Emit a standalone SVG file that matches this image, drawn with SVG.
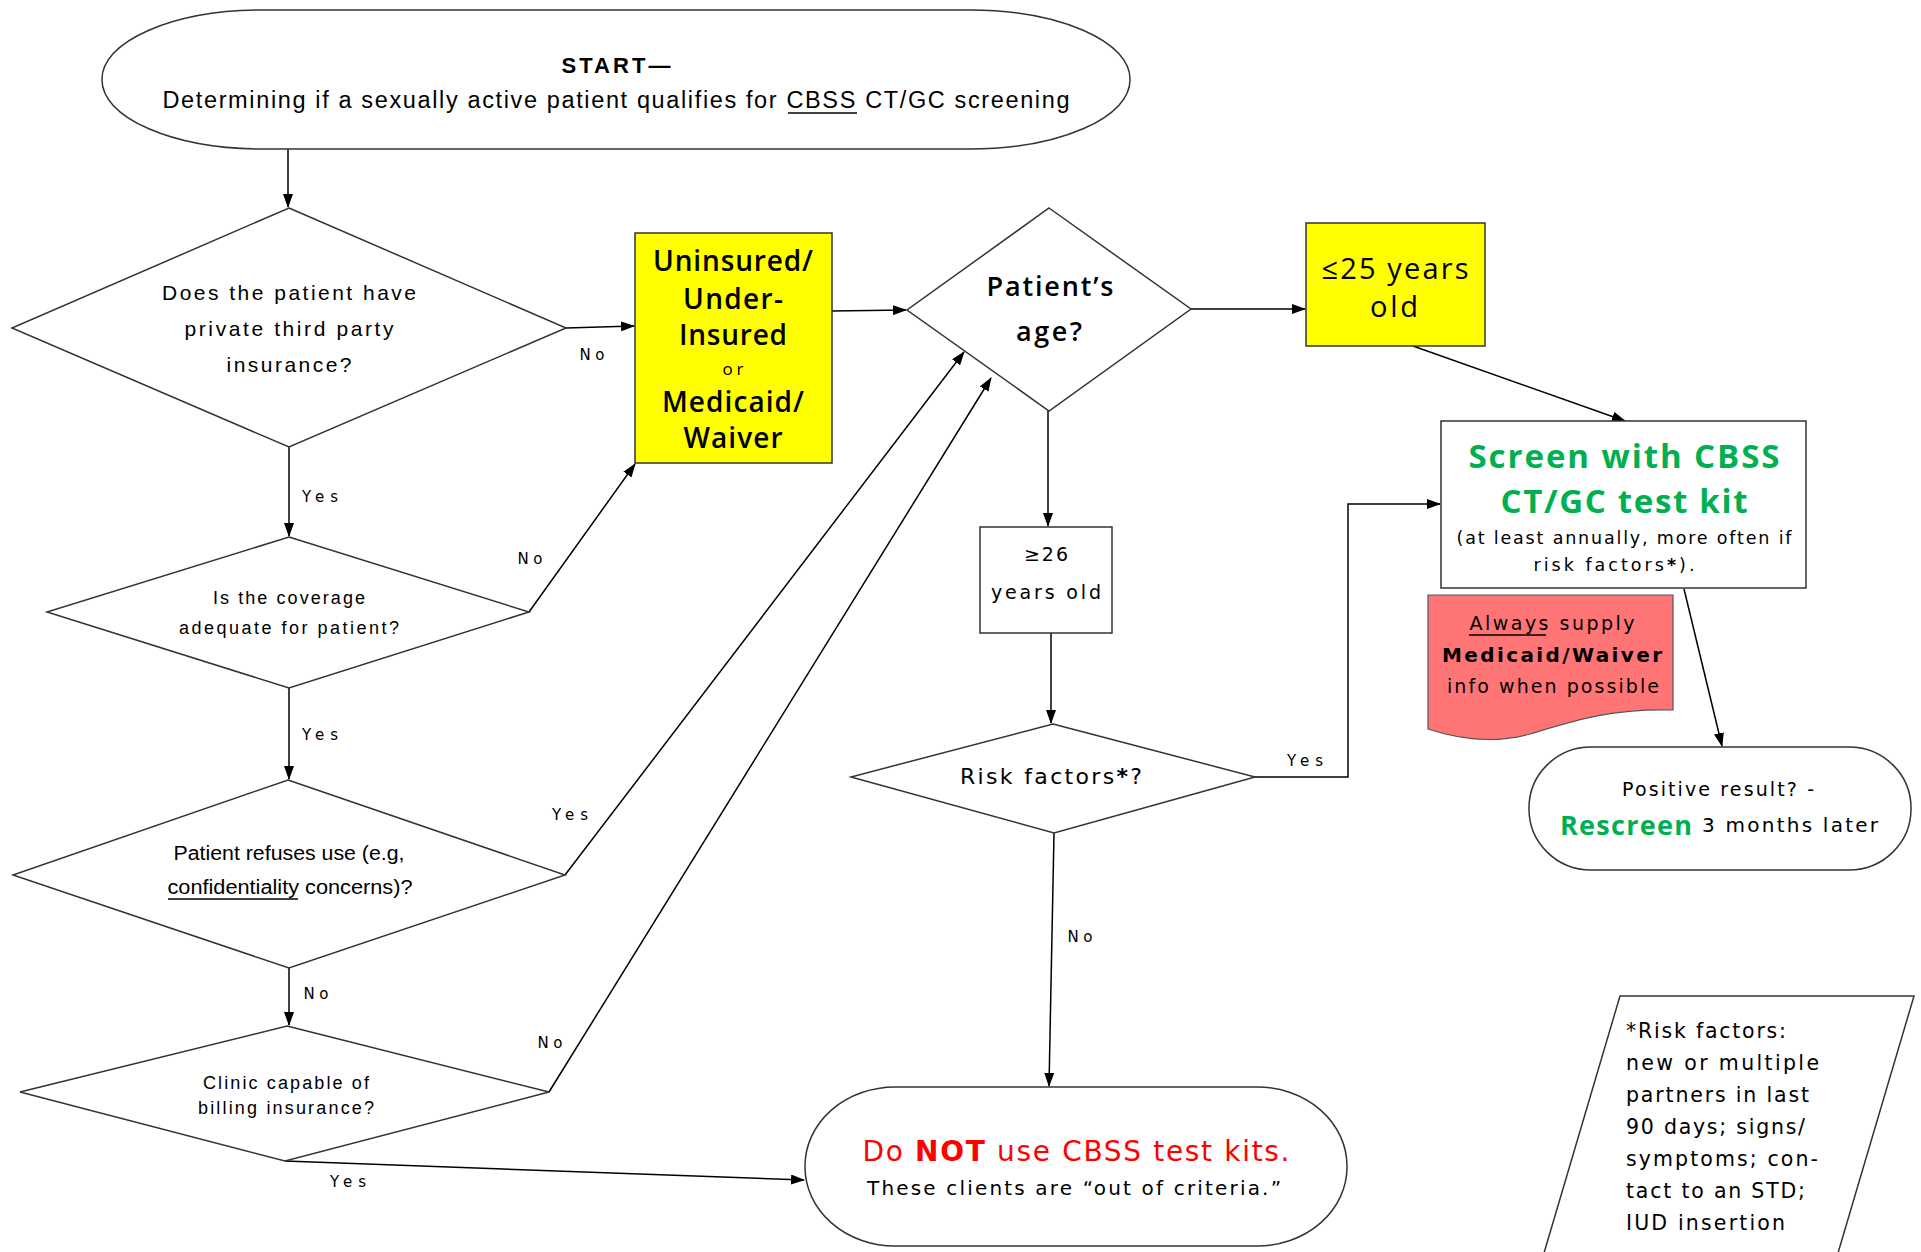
<svg xmlns="http://www.w3.org/2000/svg" width="1921" height="1252" viewBox="0 0 1921 1252">
<style>
.ln{fill:none;stroke:#000;stroke-width:1.5}
.ul{fill:none;stroke:#000;stroke-width:1.3}
.sh{fill:#fff;stroke:#333;stroke-width:1.5}
.yl{fill:#ffff00;stroke:#333;stroke-width:1.5}
.rd{fill:#ff7575;stroke:#555;stroke-width:1.2}
text{text-anchor:middle;dominant-baseline:central;fill:#000}
.c{font-family:'Liberation Sans',Arial,sans-serif}
.v{font-family:'DejaVu Sans',Verdana,sans-serif}
.o{font-family:'Open Sans','Liberation Sans',sans-serif}
.lb{font-family:'DejaVu Sans',Verdana,sans-serif;font-size:15px}
.g{fill:#00b050}
.r{fill:#ff0000}
.st{text-anchor:start}
</style>
<defs>
<marker id="ah" markerWidth="14" markerHeight="10" refX="13" refY="5" orient="auto" markerUnits="userSpaceOnUse"><path d="M0,0 L14,5 L0,10 Z" fill="#000"/></marker>
</defs>

<g id="connectors">
<path class="ln" marker-end="url(#ah)" d="M288,149 V207"/>
<path class="ln" marker-end="url(#ah)" d="M566,328 L634,326"/>
<path class="ln" marker-end="url(#ah)" d="M289,447 V536"/>
<path class="ln" marker-end="url(#ah)" d="M529,612 L635,464"/>
<path class="ln" marker-end="url(#ah)" d="M289,688 V779"/>
<path class="ln" marker-end="url(#ah)" d="M565,875 L964,352"/>
<path class="ln" marker-end="url(#ah)" d="M289,968 V1025"/>
<path class="ln" marker-end="url(#ah)" d="M549,1092 L991,378"/>
<path class="ln" marker-end="url(#ah)" d="M285,1161 L804,1180"/>
<path class="ln" marker-end="url(#ah)" d="M832,311 L906,310"/>
<path class="ln" marker-end="url(#ah)" d="M1191,309 L1305,309"/>
<path class="ln" marker-end="url(#ah)" d="M1413,346 L1625,421"/>
<path class="ln" marker-end="url(#ah)" d="M1048,411 V526"/>
<path class="ln" marker-end="url(#ah)" d="M1051,633 V723"/>
<path class="ln" marker-end="url(#ah)" d="M1254,777 H1348 V504 H1440"/>
<path class="ln" marker-end="url(#ah)" d="M1054,833 L1049,1086"/>
<path class="ln" marker-end="url(#ah)" d="M1684,589 L1722,746"/>
<text class="lb" x="592" y="355" textLength="25">No</text>
<text class="lb" x="320" y="497" textLength="36">Yes</text>
<text class="lb" x="530" y="559" textLength="25">No</text>
<text class="lb" x="320" y="735" textLength="36">Yes</text>
<text class="lb" x="570" y="815" textLength="36">Yes</text>
<text class="lb" x="316" y="994" textLength="25">No</text>
<text class="lb" x="550" y="1043" textLength="25">No</text>
<text class="lb" x="348" y="1182" textLength="36">Yes</text>
<text class="lb" x="1305" y="761" textLength="36">Yes</text>
<text class="lb" x="1080" y="937" textLength="25">No</text>
</g>

<g id="start">
<rect class="sh" x="102" y="10" width="1028" height="139" rx="160" ry="69"/>
<text class="c" x="616" y="65" font-size="22" font-weight="bold" textLength="109">START—</text>
<text class="c" x="616" y="100" font-size="23.5" textLength="907">Determining if a sexually active patient qualifies for CBSS CT/GC screening</text>
<line class="ul" x1="788" y1="113" x2="857" y2="113"/>
</g>

<g id="q-insurance">
<polygon class="sh" points="289,208 566,328 289,447 12,328"/>
<text class="c" x="289" y="292" font-size="21" textLength="254">Does the patient have</text>
<text class="c" x="289" y="328" font-size="21" textLength="209">private third party</text>
<text class="c" x="289" y="364" font-size="21" textLength="125">insurance?</text>
</g>

<g id="q-coverage">
<polygon class="sh" points="289,537 529,612 289,688 47,612"/>
<text class="c" x="289" y="598" font-size="18" textLength="152">Is the coverage</text>
<text class="c" x="289" y="628" font-size="18" textLength="220">adequate for patient?</text>
</g>

<g id="q-refuses">
<polygon class="sh" points="288,780 565,875 289,968 13,875"/>
<text class="c" x="289" y="853" font-size="20" textLength="231" lengthAdjust="spacingAndGlyphs">Patient refuses use (e.g,</text>
<text class="c" x="290" y="887" font-size="20" textLength="245" lengthAdjust="spacingAndGlyphs">confidentiality concerns)?</text>
<line class="ul" x1="168" y1="899" x2="298" y2="899"/>
</g>

<g id="q-billing">
<polygon class="sh" points="287,1026 549,1092 285,1161 20,1092"/>
<text class="c" x="286" y="1083" font-size="18" textLength="166">Clinic capable of</text>
<text class="c" x="286" y="1108" font-size="18" textLength="176">billing insurance?</text>
</g>

<g id="uninsured">
<rect class="yl" x="635" y="233" width="197" height="230"/>
<text class="o" x="733" y="260" font-size="28" font-weight="600" textLength="160">Uninsured/</text>
<text class="o" x="733" y="298" font-size="28" font-weight="600" textLength="100">Under-</text>
<text class="o" x="733" y="334" font-size="28" font-weight="600" textLength="108">Insured</text>
<text class="o" x="733" y="368" font-size="17" textLength="21">or</text>
<text class="o" x="733" y="401" font-size="28" font-weight="600" textLength="142">Medicaid/</text>
<text class="o" x="733" y="437" font-size="28" font-weight="600" textLength="99">Waiver</text>
</g>

<g id="q-age">
<polygon class="sh" points="1049,208 1191,309 1049,411 907,310"/>
<text class="o" x="1050" y="285" font-size="27" font-weight="600" textLength="127">Patient’s</text>
<text class="o" x="1049" y="330" font-size="27" font-weight="600" textLength="66">age?</text>
</g>

<g id="under25">
<rect class="yl" x="1306" y="223" width="179" height="123"/>
<text class="o" x="1395" y="267" font-size="29" textLength="147">≤25 years</text>
<text class="o" x="1394" y="305" font-size="29" textLength="48">old</text>
</g>

<g id="over26">
<rect class="sh" x="980" y="527" width="132" height="106"/>
<text class="v" x="1046" y="554" font-size="19" textLength="44">≥26</text>
<text class="v" x="1046" y="592" font-size="19" textLength="110">years old</text>
</g>

<g id="q-risk">
<polygon class="sh" points="1053,724 1255,777 1054,833 851,777"/>
<text class="v" x="1051" y="776" font-size="22" textLength="182">Risk factors<tspan font-weight="bold">*</tspan>?</text>
</g>

<g id="screen">
<rect class="sh" x="1441" y="421" width="365" height="167"/>
<text class="o g" x="1624" y="455" font-size="33" font-weight="bold" textLength="311">Screen with CBSS</text>
<text class="o g" x="1624" y="500" font-size="33" font-weight="bold" textLength="247">CT/GC test kit</text>
<text class="v" x="1624" y="538" font-size="17.5" textLength="335">(at least annually, more often if</text>
<text class="v" x="1614" y="565" font-size="17.5" textLength="161">risk factors<tspan font-weight="bold">*</tspan>).</text>
</g>

<g id="medicaid-note">
<path class="rd" d="M1428,595 H1673 V710 C1610,708 1570,722 1530,734 C1490,745 1455,738 1428,729 Z"/>
<text class="v" x="1552" y="623" font-size="19" textLength="165">Always supply</text>
<line class="ul" x1="1469" y1="635" x2="1546" y2="635"/>
<text class="v" x="1552" y="655" font-size="20" font-weight="bold" textLength="220">Medicaid/Waiver</text>
<text class="v" x="1553" y="686" font-size="19" textLength="212">info when possible</text>
</g>

<g id="positive">
<rect class="sh" x="1529" y="747" width="382" height="123" rx="62" ry="61"/>
<text class="v" x="1718" y="789" font-size="19" textLength="192">Positive result? -</text>
<text class="o g st" x="1560" y="824" font-size="27" font-weight="bold" textLength="132">Rescreen</text>
<text class="v st" x="1702" y="825" font-size="20" textLength="176">3 months later</text>
</g>

<g id="do-not">
<rect class="sh" x="805" y="1087" width="542" height="159" rx="90" ry="79"/>
<text class="v r" x="1076" y="1151" font-size="28" textLength="427">Do <tspan font-weight="bold">NOT</tspan> use CBSS test kits.</text>
<text class="v" x="1074" y="1188" font-size="20" textLength="414">These clients are “out of criteria.”</text>
</g>

<g id="risk-note">
<polygon class="sh" points="1620,996 1914,996 1838,1253 1544,1253"/>
<text class="v st" x="1626" y="1031" font-size="20.5" textLength="160">*Risk factors:</text>
<text class="v st" x="1626" y="1063" font-size="20.5" textLength="193">new or multiple</text>
<text class="v st" x="1626" y="1095" font-size="20.5" textLength="183">partners in last</text>
<text class="v st" x="1626" y="1127" font-size="20.5" textLength="179">90 days; signs/</text>
<text class="v st" x="1626" y="1159" font-size="20.5" textLength="192">symptoms; con-</text>
<text class="v st" x="1626" y="1191" font-size="20.5" textLength="179">tact to an STD;</text>
<text class="v st" x="1626" y="1223" font-size="20.5" textLength="159">IUD insertion</text>
</g>
</svg>
